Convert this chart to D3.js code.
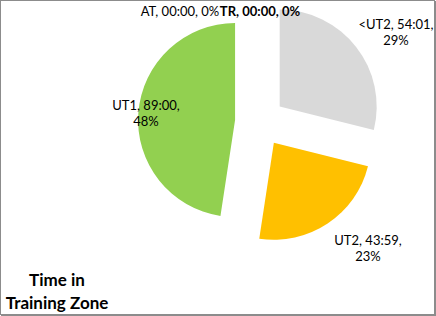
<!DOCTYPE html>
<html>
<head>
<meta charset="utf-8">
<script src="https://cdn.jsdelivr.net/npm/d3@7"></script>
<style>
  body { margin: 0; background: #fff; }
  text { font-family: Lato, "Liberation Sans", sans-serif; }
</style>
</head>
<body>
<div class="canvas"></div>
<script>
// zones, clockwise from 12 o'clock
const zones = ['<UT2', 'UT2', 'UT1', 'AT', 'TR']
const seconds = [3241, 2639, 5340, 0, 0]
const timeLabels = ['54:01', '43:59', '89:00', '00:00', '00:00']
const pctLabels = ['29%', '23%', '48%', '0%', '0%']
const colors = ['#d9d9d9', '#ffc000', '#92d050', '#5b9bd5', '#ed7d31']

const width = 436
const height = 316

const svg = d3.select('.canvas')
    .append('svg')
    .attr('width', width)
    .attr('height', height)

// chart frame
svg.append('rect')
    .attr('x', 0.5).attr('y', 0.5)
    .attr('width', width - 2).attr('height', height - 2)
    .attr('fill', '#fff')
    .attr('stroke', '#8c8c8c')
svg.append('path')
    .attr('d', `M${width - 1},1V${height - 1}H1`)
    .attr('fill', 'none')
    .attr('stroke', '#8c8c8c')
    .attr('stroke-width', 2)

const cx = 260, cy = 122
const radius = 97
const explode = 25

const data = zones.map((z, i) => ({ zone: z, value: seconds[i], time: timeLabels[i], pct: pctLabels[i], color: colors[i] }))

const pie = d3.pie().sort(null).value(d => d.value)
const arc = d3.arc().innerRadius(0).outerRadius(radius)

const graph = svg.append('g')
    .attr('transform', `translate(${cx}, ${cy})`)

graph.selectAll('path.slice')
    .data(pie(data).filter(d => d.data.value > 0))
    .enter()
    .append('path')
    .attr('class', 'slice')
    .attr('d', arc)
    .attr('fill', d => d.data.color)
    .attr('transform', d => {
        const a = (d.startAngle + d.endAngle) / 2
        return `translate(${explode * Math.sin(a)}, ${-explode * Math.cos(a)})`
    })

// data labels (positions as placed in the original)
const labelPos = {
    '<UT2': { x: 396, y: 29, wrap: true },
    'UT2': { x: 368, y: 245, wrap: true },
    'UT1': { x: 146, y: 110, wrap: true },
    'AT': { x: 180, y: 16, wrap: false },
    'TR': { x: 260, y: 16, wrap: false }
}

data.forEach(d => {
    const p = labelPos[d.zone]
    const t = svg.append('text')
        .attr('x', p.x).attr('y', p.y)
        .attr('text-anchor', 'middle')
        .attr('font-size', 13)
        .attr('fill', '#000')
    if (p.wrap) {
        t.append('tspan').attr('x', p.x).text(`${d.zone}, ${d.time},`)
        t.append('tspan').attr('x', p.x).attr('dy', 16).text(d.pct)
    } else {
        t.text(`${d.zone}, ${d.time}, ${d.pct}`)
        if (d.zone === 'TR') t.attr('font-weight', 'bold')
    }
})

// title
const title = svg.append('text')
    .attr('text-anchor', 'middle')
    .attr('font-size', 17)
    .attr('font-weight', 'bold')
    .attr('fill', '#000')
title.append('tspan').attr('x', 57).attr('y', 286).text('Time in')
title.append('tspan').attr('x', 57).attr('y', 309).text('Training Zone')
</script>
</body>
</html>
